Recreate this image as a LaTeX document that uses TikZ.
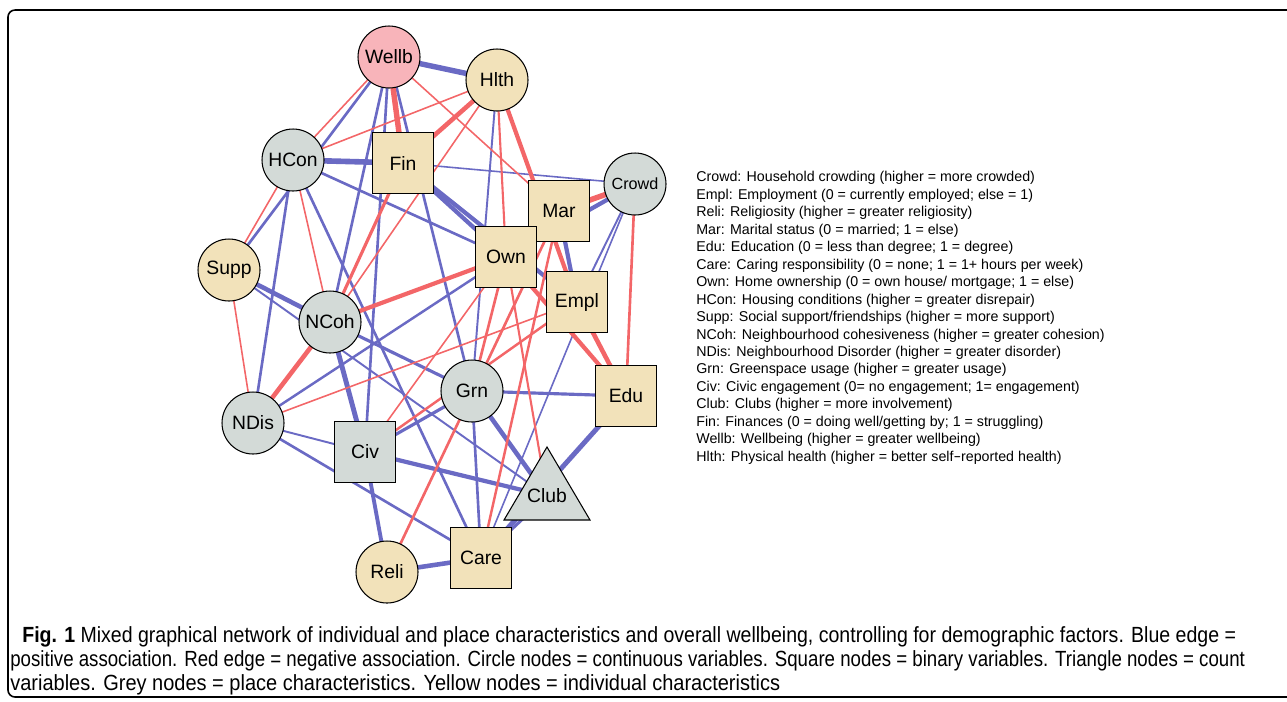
\documentclass[tikz,border=0pt]{standalone}
\usepackage{fontspec}
\setmainfont{Liberation Sans}
\usepackage{graphicx}
\definecolor{posc}{RGB}{106,106,196}
\definecolor{negc}{RGB}{243,102,104}
\definecolor{tanc}{RGB}{242,226,186}
\definecolor{greyc}{RGB}{211,218,215}
\definecolor{pinkc}{RGB}{248,180,186}
\pgfdeclarelayer{edges}
\pgfsetlayers{edges,main}
\begin{document}
\begin{tikzpicture}[x=0.02cm,y=-0.02cm,
  vnode/.style={draw=black, line width=0.6pt, inner sep=0pt, font=\fontsize{11}{13}\selectfont},
  circ/.style={vnode, circle, minimum size=1.24cm},
  sq/.style={vnode, rectangle, minimum size=1.22cm},
  trishape/.style={draw=black, line width=0.6pt, fill=greyc, line join=miter},
  yel/.style={fill=tanc}, gry/.style={fill=greyc}, pnk/.style={fill=pinkc},
  pe/.style={draw=posc, line width=#1},
  ne/.style={draw=negc, line width=#1},
  txt/.style={inner sep=0pt, anchor=base west, font=\fontsize{12.5}{14}\selectfont}
]
\useasboundingbox (0,0) rectangle (1287,701);
\clip (0,0) rectangle (1287,701);
\draw[line width=0.9pt, rounded corners=0.14cm] (8,10) rectangle (1450,697);

% nodes
\node[circ,pnk] (W) at (389,57) {Wellb};
\node[circ,yel] (H) at (497,80) {Hlth};
\node[circ,gry] (HC) at (293,160) {HCon};
\node[sq,yel] (F) at (403,163) {Fin};
\node[circ,gry,font=\fontsize{9.2}{11}\selectfont] (C) at (635,184) {Crowd};
\node[sq,yel] (M) at (559,211) {Mar};
\node[sq,yel] (O) at (506,257) {Own};
\node[circ,yel] (S) at (229,270) {Supp};
\node[sq,yel] (E) at (577,302) {Empl};
\node[circ,gry] (NC) at (330,322) {NCoh};
\node[circ,gry] (G) at (472,391) {Grn};
\node[sq,yel] (Ed) at (626,396) {Edu};
\node[circ,gry] (ND) at (253,423) {NDis};
\node[sq,gry] (Cv) at (365,452) {Civ};
\path[trishape] (547,447) -- (590,520) -- (504,520) -- cycle;
\node[inner sep=0pt, font=\fontsize{11}{13}\selectfont] (Cl) at (547,496) {Club};
\node[sq,yel] (Ca) at (481,558) {Care};
\node[circ,yel] (R) at (387,572) {Reli};

\begin{pgfonlayer}{edges}
% positive (blue)
\draw[pe=3.1pt] (W.center) -- (H.center);
\draw[pe=1.5pt] (W.center) -- (S.center);
\draw[pe=1.5pt] (W.center) -- (NC.center);
\draw[pe=1.5pt] (W.center) -- (Cv.center);
\draw[pe=1.5pt] (W.center) -- (G.center);
\draw[pe=3.2pt] (HC.center) -- (F.center);
\draw[pe=1.5pt] (HC.center) -- (ND.center);
\draw[pe=1.5pt] (HC.center) -- (O.center);
\draw[pe=1.5pt] (HC.center) -- (Ca.center);
\draw[pe=2.4pt] (F.center) -- (O.center);
\draw[pe=2.4pt] (F.center) -- (E.center);
\draw[pe=0.9pt] (F.center) -- (C.center);
\draw[pe=1.1pt] (H.center) -- (G.center);
\draw[pe=2.6pt] (S.center) -- (NC.center);
\draw[pe=1.1pt] (S.center) -- (Cl.center);
\draw[pe=1.8pt] (NC.center) -- (G.center);
\draw[pe=2.8pt] (NC.center) -- (Cv.center);
\draw[pe=1.4pt] (ND.center) -- (O.center);
\draw[pe=1.1pt] (ND.center) -- (Cv.center);
\draw[pe=1.5pt] (ND.center) -- (Ca.center);
\draw[pe=2.4pt] (C.center) -- (O.center);
\draw[pe=1.1pt] (C.center) -- (E.center);
\draw[pe=0.9pt] (C.center) -- (Ca.center);
\draw[pe=2.4pt] (M.center) -- (E.center);
\draw[pe=1.8pt] (G.center) -- (Ed.center);
\draw[pe=2.6pt] (G.center) -- (Cl.center);
\draw[pe=1.8pt] (G.center) -- (Cv.center);
\draw[pe=1.5pt] (G.center) -- (Ca.center);
\draw[pe=2.4pt] (Cv.center) -- (Cl.center);
\draw[pe=2.2pt] (Cv.center) -- (R.center);
\draw[pe=2.8pt] (Ed.center) -- (Ca.center);
\draw[pe=1.8pt] (Cl.center) -- (Ca.center);
\draw[pe=2.6pt] (R.center) -- (Ca.center);
% negative (red)
\draw[ne=3.1pt] (W.center) -- (F.center);
\draw[ne=0.9pt] (W.center) -- (HC.center);
\draw[ne=0.9pt] (W.center) -- (M.center);
\draw[ne=0.9pt] (H.center) -- (HC.center);
\draw[ne=2.6pt] (H.center) -- (F.center);
\draw[ne=0.9pt] (H.center) -- (NC.center);
\draw[ne=2.4pt] (H.center) -- (E.center);
\draw[ne=1.2pt] (H.center) -- (O.center);
\draw[ne=0.9pt] (HC.center) -- (S.center);
\draw[ne=0.9pt] (HC.center) -- (NC.center);
\draw[ne=1.8pt] (F.center) -- (NC.center);
\draw[ne=0.9pt] (S.center) -- (ND.center);
\draw[ne=2.6pt] (NC.center) -- (ND.center);
\draw[ne=2.4pt] (NC.center) -- (O.center);
\draw[ne=3.1pt] (C.center) -- (M.center);
\draw[ne=1.5pt] (C.center) -- (Ed.center);
\draw[ne=1.5pt] (O.center) -- (G.center);
\draw[ne=0.9pt] (O.center) -- (Cv.center);
\draw[ne=1.2pt] (O.center) -- (Cl.center);
\draw[ne=2.4pt] (O.center) -- (Ed.center);
\draw[ne=2.6pt] (E.center) -- (Ed.center);
\draw[ne=0.9pt] (E.center) -- (ND.center);
\draw[ne=1.4pt] (E.center) -- (Cv.center);
\draw[ne=1.5pt] (M.center) -- (R.center);
\draw[ne=1.4pt] (M.center) -- (Ca.center);
\end{pgfonlayer}

% legend
\node[inner sep=0pt, anchor=north west, align=left, font=\fontsize{8.1}{9.95}\selectfont] (legend) at (696,171) {%
Crowd: Household crowding (higher = more crowded)\\
Empl: Employment (0 = currently employed; else = 1)\\
Reli: Religiosity (higher = greater religiosity)\\
Mar: Marital status (0 = married; 1 = else)\\
Edu: Education (0 = less than degree; 1 = degree)\\
Care: Caring responsibility (0 = none; 1 = 1+ hours per week)\\
Own: Home ownership (0 = own house/ mortgage; 1 = else)\\
HCon: Housing conditions (higher = greater disrepair)\\
Supp: Social support/friendships (higher = more support)\\
NCoh: Neighbourhood cohesiveness (higher = greater cohesion)\\
NDis: Neighbourhood Disorder (higher = greater disorder)\\
Grn: Greenspace usage (higher = greater usage)\\
Civ: Civic engagement (0= no engagement; 1= engagement)\\
Club: Clubs (higher = more involvement)\\
Fin: Finances (0 = doing well/getting by; 1 = struggling)\\
Wellb: Wellbeing (higher = greater wellbeing)\\
Hlth: Physical health (higher = better self\texttt{-}reported health)};

% caption
\node[txt] (cap1) at (22,642) {\resizebox{24.28cm}{\height}{\textbf{Fig. 1} Mixed graphical network of individual and place characteristics and overall wellbeing, controlling for demographic factors. Blue edge =}};
\node[txt] (cap2) at (10,666) {\resizebox{24.7cm}{\height}{positive association. Red edge = negative association. Circle nodes = continuous variables. Square nodes = binary variables. Triangle nodes = count}};
\node[txt] (cap3) at (10,690) {\resizebox{15.4cm}{\height}{variables. Grey nodes = place characteristics. Yellow nodes = individual characteristics}};
\end{tikzpicture}
\end{document}
